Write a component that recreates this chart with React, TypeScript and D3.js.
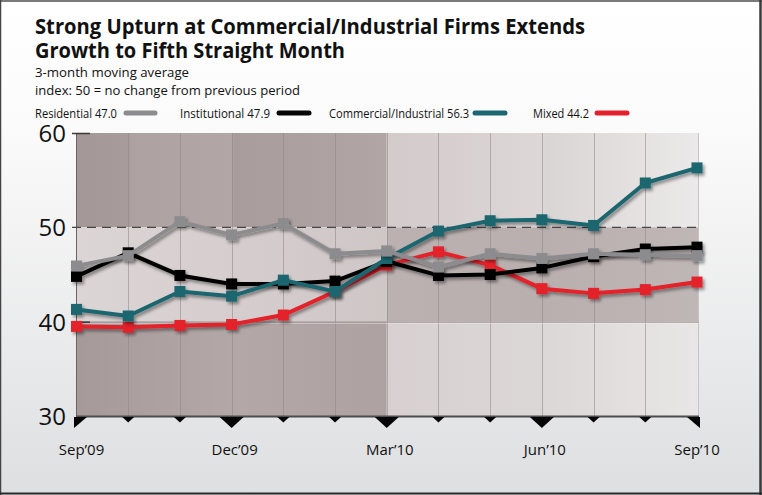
import React from 'react';
import * as d3 from 'd3';

const months = ["Sep'09", "Oct'09", "Nov'09", "Dec'09", "Jan'10", "Feb'10", "Mar'10", "Apr'10", "May'10", "Jun'10", "Jul'10", "Aug'10", "Sep'10"];
const residential = [45.9, 47.0, 50.6, 49.2, 50.4, 47.2, 47.5, 45.8, 47.2, 46.7, 47.2, 47.1, 47.0];
const institutional = [44.8, 47.3, 44.9, 44.0, 44.0, 44.3, 46.4, 44.9, 45.0, 45.7, 46.9, 47.7, 47.9];
const commercial = [41.3, 40.6, 43.2, 42.7, 44.4, 43.2, 46.7, 49.6, 50.7, 50.8, 50.2, 54.7, 56.3];
const mixed = [39.5, 39.4, 39.6, 39.7, 40.7, 43.2, 46.0, 47.4, 46.0, 43.5, 43.0, 43.4, 44.2];
const yTicks = [30, 40, 50, 60];
const xLabelIdx = [0, 3, 6, 9, 12];
const xLabels = ["Sep\u201909", "Dec\u201909", "Mar\u201910", "Jun\u201910", "Sep\u201910"];

const seriesNames = ["Residential 47.0", "Institutional  47.9", "Commercial/Industrial 56.3", "Mixed 44.2"];
const seriesColors = ["#8c8c8e", "#050505", "#1b6670", "#e3202b"];

const FONT = "'Open Sans', 'DejaVu Sans', sans-serif";

export default function App() {
  const x = d3.scaleLinear().domain([0, 12]).range([76.5, 697]);
  const y = d3.scaleLinear().domain([30, 60]).range([416, 133]);
  const plotL = 76, plotR = 699, plotT = y(60), plotB = y(30);
  const xMid = x(6);

  const line = d3.line<number>().x((_, i) => x(i)).y((d) => y(d));

  const order = [3, 1, 2, 0];
  const data = [residential, institutional, commercial, mixed];

  const legend = [
    { tx: 35, tw: 82, lx1: 126, lx2: 155 },
    { tx: 180, tw: 90, lx1: 279, lx2: 309 },
    { tx: 329, tw: 140, lx1: 475, lx2: 505 },
    { tx: 533, tw: 56, lx1: 597, lx2: 627 },
  ];

  return (
    <div style={{ position: 'fixed', left: 0, top: 0 }}>
      <svg width={762} height={495} style={{ display: 'block' }}>
        <defs>
          <linearGradient id="bg" x1="0" y1="0" x2="0" y2="1">
            <stop offset="0" stopColor="#ffffff" />
            <stop offset="0.25" stopColor="#fbfbfb" />
            <stop offset="1" stopColor="#dedfe1" />
          </linearGradient>
          <linearGradient id="lTop" x1="0" y1="0" x2="1" y2="0">
            <stop offset="0" stopColor="#a49798" />
            <stop offset="0.17" stopColor="#a89b9b" />
            <stop offset="0.18" stopColor="#aea1a1" />
            <stop offset="0.5" stopColor="#b2a6a6" />
            <stop offset="0.51" stopColor="#a99c9c" />
            <stop offset="1" stopColor="#b1a5a5" />
          </linearGradient>
          <linearGradient id="lMid" x1="0" y1="0" x2="1" y2="0">
            <stop offset="0" stopColor="#dcd5d5" />
            <stop offset="0.5" stopColor="#d6cece" />
            <stop offset="1" stopColor="#cfc6c6" />
          </linearGradient>
          <linearGradient id="lBot" x1="0" y1="0" x2="1" y2="0">
            <stop offset="0" stopColor="#a6999a" />
            <stop offset="0.5" stopColor="#b3a7a7" />
            <stop offset="1" stopColor="#ada1a1" />
          </linearGradient>
          <linearGradient id="rTop" x1="0" y1="0" x2="1" y2="0">
            <stop offset="0" stopColor="#d3caca" />
            <stop offset="0.5" stopColor="#ddd7d7" />
            <stop offset="0.51" stopColor="#dad5d5" />
            <stop offset="1" stopColor="#ebe9e9" />
          </linearGradient>
          <linearGradient id="rMid" x1="0" y1="0" x2="1" y2="0">
            <stop offset="0" stopColor="#bcb1b1" />
            <stop offset="0.5" stopColor="#b9afaf" />
            <stop offset="1" stopColor="#bfb6b6" />
          </linearGradient>
          <linearGradient id="rBot" x1="0" y1="0" x2="1" y2="0">
            <stop offset="0" stopColor="#d8d0d0" />
            <stop offset="0.5" stopColor="#dcd7d7" />
            <stop offset="1" stopColor="#e8e6e6" />
          </linearGradient>
          <filter id="shadow" x="-10%" y="-10%" width="120%" height="130%">
            <feDropShadow dx="2" dy="2.5" stdDeviation="1.5" floodColor="#000" floodOpacity="0.4" />
          </filter>
        </defs>

        <rect x={0} y={0} width={762} height={495} fill="url(#bg)" />
        <line x1={0} x2={762} y1={1} y2={1} stroke="#7a7a7a" strokeWidth={2} />
        <line x1={0.5} x2={0.5} y1={0} y2={495} stroke="#444" strokeWidth={1.5} />
        <line x1={760.5} x2={760.5} y1={0} y2={495} stroke="#3a3a3a" strokeWidth={2.5} />
        <line x1={0} x2={762} y1={493.5} y2={493.5} stroke="#2a2a2a" strokeWidth={2} />

        <g fontFamily={FONT} fill="#111">
          <text x={35} y={34} fontSize={20.5} fontWeight={700} textLength={550} lengthAdjust="spacingAndGlyphs">Strong Upturn at Commercial/Industrial Firms Extends</text>
          <text x={35} y={57.5} fontSize={20.5} fontWeight={700} textLength={310} lengthAdjust="spacingAndGlyphs">Growth to Fifth Straight Month</text>
          <text x={35} y={76.5} fontSize={13.5} textLength={154} lengthAdjust="spacingAndGlyphs">3-month moving average</text>
          <text x={35} y={95} fontSize={13.5} textLength={265} lengthAdjust="spacingAndGlyphs">index: 50 = no change from previous period</text>
        </g>

        <g fontFamily={FONT} fontSize={12} fill="#111">
          {seriesNames.map((n, i) => (
            <g key={n}>
              <text x={legend[i].tx} y={117.5} textLength={legend[i].tw} lengthAdjust="spacingAndGlyphs">{n}</text>
              <line x1={legend[i].lx1} x2={legend[i].lx2} y1={113} y2={113} stroke={seriesColors[i]} strokeWidth={5} strokeLinecap="round" />
            </g>
          ))}
        </g>

        <rect x={plotL} y={y(60)} width={xMid - plotL} height={y(50) - y(60)} fill="url(#lTop)" />
        <rect x={plotL} y={y(50)} width={xMid - plotL} height={y(40) - y(50)} fill="url(#lMid)" />
        <rect x={plotL} y={y(40)} width={xMid - plotL} height={y(30) - y(40)} fill="url(#lBot)" />
        <rect x={xMid} y={y(60)} width={plotR - xMid} height={y(50) - y(60)} fill="url(#rTop)" />
        <rect x={xMid} y={y(50)} width={plotR - xMid} height={y(40) - y(50)} fill="url(#rMid)" />
        <rect x={xMid} y={y(40)} width={plotR - xMid} height={y(30) - y(40)} fill="url(#rBot)" />

        {months.map((m, i) => (
          i > 0 && i < 12 ? (
            <line key={m} x1={Math.round(x(i)) + 0.5} x2={Math.round(x(i)) + 0.5} y1={plotT} y2={plotB} stroke="#8f8585" strokeOpacity={0.55} strokeWidth={1} />
          ) : null
        ))}
        <line x1={plotR - 0.5} x2={plotR - 0.5} y1={plotT} y2={plotB} stroke="#c9c3c3" strokeWidth={1} />
        <line x1={plotL + 0.5} x2={plotL + 0.5} y1={plotT} y2={plotB} stroke="#6d6363" strokeWidth={1} />

        <line x1={plotL} x2={plotR} y1={y(40) + 0.5} y2={y(40) + 0.5} stroke="#8b8282" strokeWidth={1} />
        <line x1={plotL} x2={plotR} y1={y(40) + 1.5} y2={y(40) + 1.5} stroke="#f0ecec" strokeOpacity={0.6} strokeWidth={1} />
        <line x1={plotL - 4} x2={plotR} y1={y(50)} y2={y(50)} stroke="#4a4444" strokeWidth={1.3} strokeDasharray="9 6" />
        {[60, 40].map((t) => (
          <line key={t} x1={plotL - 4} x2={plotL + 14} y1={y(t) + 0.5} y2={y(t) + 0.5} stroke="#3d3737" strokeWidth={1.5} />
        ))}

        <line x1={plotL} x2={plotR} y1={plotB + 0.5} y2={plotB + 0.5} stroke="#4c4c4c" strokeWidth={2} />

        {months.map((m, i) => {
          const cx = x(i);
          const top = plotB + 1;
          let pts: [number, number][];
          if (i === 0) pts = [[plotL - 2, top], [plotL + 11, top], [plotL - 2, top + 11]];
          else if (i === 12) pts = [[plotR - 12, top], [plotR + 1, top], [plotR + 1, top + 11]];
          else if (i % 3 === 0) pts = [[cx - 12, top], [cx + 12, top], [cx, top + 11]];
          else pts = [[cx - 6, top], [cx + 6, top], [cx, top + 5.5]];
          return <polygon key={m} points={pts.map((p) => p.join(',')).join(' ')} fill="#050505" />;
        })}

        <g fontFamily={FONT} fontSize={24} fill="#111" textAnchor="end">
          {yTicks.map((t) => (
            <text key={t} x={66} y={y(t) + 9}>{t}</text>
          ))}
        </g>

        <g fontFamily={FONT} fontSize={15} fill="#111" textAnchor="middle">
          {xLabelIdx.map((idx, k) => (
            <text key={idx} x={x(idx) + (k === 4 ? 0 : k === 0 ? 5 : 3)} y={455}>{xLabels[k]}</text>
          ))}
        </g>

        {order.map((si) => (
          <g key={si} filter="url(#shadow)">
            <path d={line(data[si]) || ''} fill="none" stroke={seriesColors[si]} strokeWidth={4} strokeLinejoin="round" />
            {data[si].map((v, i) => (
              <rect key={i} x={x(i) - 5.5} y={y(v) - 5.5} width={11} height={11} fill={seriesColors[si]} />
            ))}
          </g>
        ))}
      </svg>
    </div>
  );
}
